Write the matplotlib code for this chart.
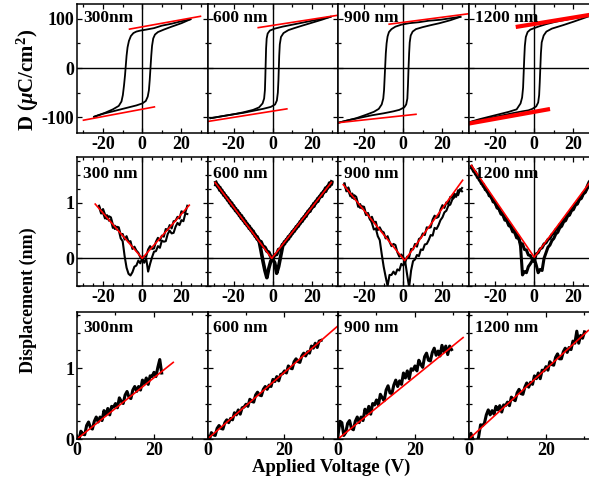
import matplotlib
matplotlib.use("Agg")
import matplotlib.pyplot as plt
from matplotlib.ticker import MultipleLocator

plt.rcParams['font.family'] = 'Liberation Serif'
plt.rcParams['font.weight'] = 'bold'
plt.rcParams['axes.unicode_minus'] = False
plt.rcParams['mathtext.fontset'] = 'custom'
plt.rcParams['mathtext.rm'] = 'Liberation Serif:bold'
plt.rcParams['mathtext.it'] = 'Liberation Serif:italic:bold'
plt.rcParams['mathtext.bf'] = 'Liberation Serif:bold'

# ---------------- row 1 : P-E hysteresis (D in uC/cm2 vs V) ----------------
thick = ['300nm', '600 nm', '900 nm', '1200 nm']

pe_dn_V = [
    [24.6, 20, 15, 10, 6, 2, -1, -3, -4.5, -5.8, -6.8, -7.5, -8.0, -8.4, -8.8, -9.3, -9.9, -10.6, -12, -15, -19, -24.6],
    [29.5, 25, 20, 15, 10, 5, 1, -1.5, -2.6, -3.1, -3.4, -3.6, -3.8, -4.0, -4.4, -5.2, -7, -10, -15, -20, -26, -31.8],
    [29.2, 24, 19, 13, 8, 3, -1, -4, -6, -7.3, -8.0, -8.5, -8.9, -9.2, -9.5, -9.8, -10.2, -11, -12.5, -15, -19, -24, -29, -33],
    [30, 26, 20, 15, 11, 6, 2, 0, -2, -3.4, -4.3, -4.8, -5.1, -5.4, -5.7, -6.2, -7, -9, -13, -18, -23, -28, -34],
]
pe_dn_D = [
    [99, 95, 90, 86, 81, 78, 76, 74, 71, 65, 55, 42, 25, 5, -15, -35, -55, -68, -77, -84, -91, -99],
    [104, 100, 96, 92, 88, 84, 80, 76, 70, 60, 40, 10, -20, -45, -62, -72, -80, -85, -90, -94, -98, -102],
    [104, 101, 98, 96, 93, 91, 88, 84, 79, 73, 64, 50, 30, 5, -20, -45, -62, -74, -83, -89, -95, -102, -107, -111],
    [108, 105, 101, 97, 94, 89, 84, 81, 78, 73, 63, 45, 20, -10, -40, -60, -72, -84, -89, -94, -99, -104, -111],
]
pe_up_V = [
    [-24.6, -20, -15, -10, -6, -3, 0, 1.8, 2.8, 3.4, 3.8, 4.2, 4.6, 5.0, 5.6, 6.5, 8, 11, 15, 20, 24.6],
    [-31.8, -26, -20, -15, -10, -5, -1, 1.2, 2.1, 2.6, 2.9, 3.1, 3.3, 3.6, 4.2, 5.5, 8, 11, 15, 20, 25, 29.5],
    [-33, -28, -22, -16, -10, -5, -2, 0.5, 1.5, 2.1, 2.4, 2.7, 3.0, 3.3, 3.8, 4.8, 6.5, 9.9, 14, 18.5, 24, 29.2],
    [-34, -28, -22, -16, -10, -6, -3, -1, 1, 2, 2.5, 2.8, 3.1, 3.4, 3.8, 4.8, 6.2, 9, 14.7, 20, 25, 30],
]
pe_up_D = [
    [-99, -93, -88, -83, -79, -76, -72, -67, -58, -45, -25, 0, 25, 45, 60, 68, 73, 78, 84, 91, 99],
    [-102, -98, -94, -91, -87, -83, -79, -74, -66, -50, -25, 0, 25, 48, 63, 71, 77, 81, 86, 92, 98, 104],
    [-111, -106, -101, -96, -92, -88, -85, -80, -74, -62, -35, 0, 30, 52, 66, 74, 79, 83, 87, 91, 97, 104],
    [-111, -106, -101, -96, -91, -88, -86, -83, -78, -70, -55, -30, 0, 30, 52, 66, 74, 80, 87, 94, 101, 108],
]
# linear fits of the saturated parts: (V1, V2), (D1, D2)
pe_fit_hi = [((-6.5, 29.7), (79, 105)), ((-7.4, 33), (82, 107)),
             ((-7.2, 33), (89, 110)), ((-8.4, 30), (84, 109))]
pe_fit_lo = [((-30, 6.2), (-106, -79)), ((-33.8, 7.2), (-109, -83)),
             ((-33, 6.5), (-111, -94)), ((-35, 7), (-114, -84))]
pe_fit_lw = [1.2, 1.2, 1.2, 3.0]

# ---------------- row 2 : butterfly loops (displacement nm vs V) ----------------
bf_names = ['300 nm', '600 nm', '900 nm', '1200 nm']
V_bf = [-32, -31, -30, -29, -28, -27, -26, -25, -24, -23, -22, -21, -20, -19, -18, -17,
        -16, -15, -14, -13, -12, -11, -10, -9, -8, -7, -6, -5, -4, -3, -2, -1, 0,
        1, 2, 3, 4, 5, 6, 7, 8, 9, 10, 11, 12, 13, 14, 15, 16, 17, 18, 19, 20,
        21, 22, 23, 24, 25, 26, 27, 28, 29, 30]
bf_span = [(10, 56), (3, 63), (2, 63), (0, 63)]   # index range of V_bf per panel

bf_300_a = [0.95, 0.84, 0.89, 0.79, 0.71, 0.76, 0.74, 0.61, 0.53, 0.57,
            0.56, 0.43, 0.44, 0.34, 0.40, 0.30, 0.31, 0.17, 0.21, 0.14,
            0.10, 0.02, 0.03, 0.03, 0.03, 0.16, 0.22, 0.17, 0.18, 0.30,
            0.37, 0.32, 0.41, 0.39, 0.53, 0.51, 0.60, 0.54, 0.67, 0.68,
            0.75, 0.72, 0.85, 0.83, 0.83, 0.95]
bf_300_b = [0.93, 0.81, 0.82, 0.72, 0.78, 0.68, 0.69, 0.55, 0.59, 0.52,
            0.51, 0.36, 0.31, 0.04, -0.17, -0.28, -0.31, -0.25, -0.15, -0.13,
            -0.04, -0.09, 0.01, -0.08, 0.00, -0.24, -0.10, 0.02, 0.12, 0.13,
            0.22, 0.19, 0.32, 0.30, 0.31, 0.44, 0.50, 0.45, 0.46, 0.57,
            0.64, 0.60, 0.69, 0.67, 0.81, 0.80]
bf_600_a = [1.37, 1.29, 1.28, 1.19, 1.18, 1.10, 1.09, 1.00, 1.00, 0.91,
            0.90, 0.82, 0.81, 0.72, 0.72, 0.63, 0.62, 0.54, 0.53, 0.45,
            0.43, 0.35, 0.32, 0.14, -0.05, -0.22, -0.35, -0.18, -0.05, 0.00,
            0.06, 0.07, 0.16, 0.17, 0.25, 0.26, 0.34, 0.35, 0.43, 0.45,
            0.52, 0.54, 0.61, 0.63, 0.71, 0.72, 0.80, 0.82, 0.89, 0.91,
            0.99, 1.00, 1.08, 1.10, 1.17, 1.19, 1.27, 1.27, 1.36, 1.35]
bf_600_b = [1.33, 1.32, 1.23, 1.23, 1.14, 1.13, 1.05, 1.04, 0.95, 0.95,
            0.86, 0.86, 0.77, 0.77, 0.68, 0.67, 0.59, 0.58, 0.50, 0.49,
            0.40, 0.39, 0.31, 0.30, 0.22, 0.20, 0.13, 0.11, 0.03, -0.02,
            -0.08, -0.27, -0.15, 0.03, 0.21, 0.30, 0.31, 0.39, 0.40, 0.48,
            0.49, 0.57, 0.58, 0.66, 0.67, 0.75, 0.76, 0.85, 0.85, 0.94,
            0.94, 1.03, 1.03, 1.12, 1.12, 1.21, 1.21, 1.30, 1.30, 1.38]
bf_900_a = [1.35, 1.23, 1.28, 1.18, 1.09, 1.14, 1.11, 0.98, 0.91, 0.94,
            0.93, 0.80, 0.80, 0.70, 0.75, 0.65, 0.66, 0.51, 0.56, 0.49,
            0.47, 0.36, 0.40, 0.30, 0.22, 0.26, 0.24, 0.11, 0.03, 0.07,
            0.02, -0.07, 0.03, 0.02, 0.17, 0.16, 0.26, 0.21, 0.35, 0.37,
            0.45, 0.42, 0.56, 0.55, 0.56, 0.70, 0.77, 0.73, 0.75, 0.88,
            0.96, 0.91, 1.01, 0.98, 1.11, 1.09, 1.17, 1.11, 1.23, 1.22,
            1.27]
bf_900_b = [1.35, 1.21, 1.22, 1.12, 1.17, 1.07, 1.07, 0.93, 0.98, 0.90,
            0.89, 0.78, 0.82, 0.72, 0.64, 0.52, 0.54, 0.40, 0.33, 0.08,
            -0.15, -0.33, -0.50, -0.30, -0.30, -0.24, -0.29, -0.20, -0.22, -0.10,
            -0.13, -0.06, -0.30, -0.52, -0.22, -0.05, -0.02, 0.06, 0.04, 0.16,
            0.15, 0.25, 0.26, 0.33, 0.42, 0.41, 0.55, 0.53, 0.60, 0.69,
            0.74, 0.83, 0.86, 0.95, 0.97, 1.06, 1.10, 1.16, 1.14, 1.25,
            1.21]
bf_1200_a = [1.63, 1.60, 1.52, 1.49, 1.41, 1.38, 1.30, 1.27, 1.20, 1.17,
             1.10, 1.05, 1.00, 0.94, 0.90, 0.83, 0.80, 0.73, 0.70, 0.62,
             0.60, 0.52, 0.50, 0.42, 0.40, 0.22, -0.30, -0.24, -0.26, -0.15,
             -0.10, -0.04, -0.06, 0.08, 0.10, 0.17, 0.19, 0.26, 0.28, 0.34,
             0.36, 0.43, 0.45, 0.52, 0.54, 0.61, 0.63, 0.70, 0.72, 0.80,
             0.81, 0.89, 0.91, 0.99, 1.00, 1.08, 1.10, 1.18, 1.20, 1.30,
             1.38, 1.42, 1.46]
bf_1200_b = [1.66, 1.57, 1.56, 1.46, 1.45, 1.35, 1.34, 1.24, 1.23, 1.13,
             1.12, 1.02, 1.01, 0.91, 0.89, 0.80, 0.78, 0.69, 0.68, 0.59,
             0.57, 0.48, 0.47, 0.37, 0.36, 0.27, 0.26, 0.16, 0.15, 0.06,
             0.05, -0.02, 0.00, -0.12, -0.26, -0.20, -0.22, 0.00, 0.10, 0.20,
             0.24, 0.32, 0.36, 0.44, 0.47, 0.55, 0.58, 0.66, 0.68, 0.76,
             0.78, 0.86, 0.88, 0.96, 0.98, 1.06, 1.08, 1.16, 1.19, 1.26,
             1.32, 1.36, 1.40]
bf_a = [bf_300_a, bf_600_a, bf_900_a, bf_1200_a]
bf_b = [bf_300_b, bf_600_b, bf_900_b, bf_1200_b]
bf_lw = [1.5, 2.6, 1.5, 2.2]
# V-shaped fits: (left V, vertex V, right V), (left d, vertex d, right d)
bf_fit = [((-24, 0, 24), (0.98, 0.0, 0.96)),
          ((-29.4, -0.5, 29.9), (1.37, 0.0, 1.37)),
          ((-30.6, 0.7, 30.3), (1.33, -0.04, 1.41)),
          ((-32.1, 0.0, 30), (1.68, 0.02, 1.45))]

# ---------------- row 3 : unipolar displacement vs V ----------------
uni_names = ['300nm', '600 nm', '900 nm', '1200 nm']
V_uni = [0, 0.5, 1, 1.5, 2, 2.5, 3, 3.5, 4, 4.5, 5, 5.5, 6, 6.5, 7, 7.5, 8, 8.5, 9, 9.5,
         10, 10.5, 11, 11.5, 12, 12.5, 13, 13.5, 14, 14.5, 15, 15.5, 16, 16.5, 17, 17.5,
         18, 18.5, 19, 19.5, 20, 20.5, 21, 21.5, 22, 22.5, 23, 23.5, 24, 24.5, 25, 25.5,
         26, 26.5, 27, 27.5, 28, 28.5, 29, 29.5, 30]
uni_300 = [0.03, -0.02, 0.11, 0.07, 0.06, 0.19, 0.24, 0.16, 0.14, 0.25,
           0.31, 0.24, 0.31, 0.26, 0.40, 0.34, 0.43, 0.34, 0.46, 0.45,
           0.50, 0.44, 0.58, 0.53, 0.50, 0.62, 0.67, 0.59, 0.57, 0.69,
           0.74, 0.67, 0.74, 0.69, 0.83, 0.78, 0.86, 0.77, 0.89, 0.88,
           0.94, 0.88, 1.01, 1.12, 0.93]
uni_600 = [0.02, -0.01, 0.09, 0.06, 0.05, 0.15, 0.19, 0.15, 0.14, 0.23,
           0.27, 0.23, 0.29, 0.27, 0.37, 0.34, 0.41, 0.35, 0.44, 0.45,
           0.49, 0.46, 0.56, 0.53, 0.52, 0.62, 0.66, 0.62, 0.61, 0.70,
           0.74, 0.70, 0.76, 0.74, 0.84, 0.81, 0.88, 0.82, 0.91, 0.92,
           0.96, 0.93, 1.03, 1.00, 0.99, 1.09, 1.13, 1.09, 1.08, 1.17,
           1.21, 1.17, 1.23, 1.21, 1.31, 1.28, 1.35, 1.29, 1.38, 1.39]
uni_900 = [0.05, 0.25, 0.23, 0.05, 0.09, 0.22, 0.26, 0.15, 0.13, 0.25,
           0.31, 0.23, 0.31, 0.26, 0.42, 0.36, 0.46, 0.35, 0.50, 0.48,
           0.55, 0.48, 0.63, 0.58, 0.54, 0.69, 0.75, 0.65, 0.64, 0.76,
           0.83, 0.74, 0.82, 0.77, 0.93, 0.86, 0.96, 0.85, 0.99, 0.97,
           1.03, 0.96, 1.11, 1.05, 1.01, 1.16, 1.21, 1.11, 1.10, 1.22,
           1.28, 1.18, 1.24, 1.17, 1.32, 1.23, 1.31, 1.19, 1.31, 1.26]
uni_1200 = [0.03, 0.08, 0.00, -0.04, -0.06, 0.03, 0.20, 0.19, 0.22, 0.34,
            0.41, 0.34, 0.40, 0.35, 0.46, 0.41, 0.47, 0.38, 0.48, 0.47,
            0.52, 0.47, 0.59, 0.56, 0.54, 0.65, 0.70, 0.64, 0.63, 0.73,
            0.79, 0.73, 0.80, 0.77, 0.89, 0.85, 0.93, 0.85, 0.97, 0.96,
            1.02, 0.97, 1.09, 1.05, 1.04, 1.15, 1.20, 1.13, 1.13, 1.23,
            1.28, 1.22, 1.29, 1.26, 1.38, 1.35, 1.52, 1.35, 1.46, 1.42,
            1.51]
uni_d = [uni_300, uni_600, uni_900, uni_1200]
uni_fit = [((0, 25), (0, 1.08)), ((0, 34), (0, 1.6)),
           ((0, 32.5), (0, 1.43)), ((0, 31), (0, 1.53))]

# ---------------- layout ----------------
W, H = 589, 480
fig = plt.figure(figsize=(W / 100, H / 100), dpi=100)
col_left = [77, 207.5, 338, 469]
col_w = 130.5
rows = [(4, 133), (157, 286), (312, 439)]   # top, bottom in px


def make_ax(r, c):
    top, bot = rows[r]
    ax = fig.add_axes([col_left[c] / W, 1 - bot / H, col_w / W, (bot - top) / H])
    for s in ax.spines.values():
        s.set_linewidth(1.1)
    ax.tick_params(which='both', direction='in', top=True, right=True,
                   labelsize=13, pad=2, width=0.9)
    ax.tick_params(which='major', length=3.5)
    ax.tick_params(which='minor', length=2)
    if c > 0:
        ax.tick_params(labelleft=False)
    return ax


def label(ax, txt, y):
    ax.text(0.045, y, txt, transform=ax.transAxes, fontsize=12.5,
            fontweight='bold', va='top', ha='left')


for c in range(4):
    # row 1
    ax = make_ax(0, c)
    ax.axhline(0, color='black', lw=1)
    ax.axvline(0, color='black', lw=1)
    ax.plot(pe_dn_V[c], pe_dn_D[c], color='black', lw=1.3)
    ax.plot(pe_up_V[c], pe_up_D[c], color='black', lw=1.3)
    ax.plot(pe_fit_hi[c][0], pe_fit_hi[c][1], color='red', lw=pe_fit_lw[c])
    ax.plot(pe_fit_lo[c][0], pe_fit_lo[c][1], color='red', lw=pe_fit_lw[c])
    ax.set_xlim(-33.3, 33.3)
    ax.set_ylim(-132, 130)
    ax.set_xticks([-20, 0, 20])
    ax.set_yticks([-100, 0, 100])
    ax.xaxis.set_minor_locator(MultipleLocator(10))
    ax.yaxis.set_minor_locator(MultipleLocator(50))
    label(ax, thick[c], 0.955)

    # row 2
    ax = make_ax(1, c)
    ax.axhline(0, color='black', lw=1)
    ax.axvline(0, color='black', lw=1)
    i0, i1 = bf_span[c]
    ax.plot(V_bf[i0:i1], bf_a[c], color='black', lw=bf_lw[c])
    ax.plot(V_bf[i0:i1], bf_b[c], color='black', lw=bf_lw[c])
    ax.plot(bf_fit[c][0], bf_fit[c][1], color='red', lw=1.2)
    ax.set_xlim(-33.3, 33.3)
    ax.set_ylim(-0.5, 1.83)
    ax.set_xticks([-20, 0, 20])
    ax.set_yticks([0, 1])
    ax.xaxis.set_minor_locator(MultipleLocator(5))
    ax.yaxis.set_minor_locator(MultipleLocator(0.25))
    label(ax, bf_names[c], 0.93)

    # row 3
    ax = make_ax(2, c)
    ax.plot(V_uni[:len(uni_d[c])], uni_d[c], color='black', lw=2.2)
    ax.plot(uni_fit[c][0], uni_fit[c][1], color='red', lw=1.2)
    ax.set_xlim(0, 33.9)
    ax.set_ylim(0, 1.79)
    ax.set_xticks([0, 20])
    ax.set_yticks([0, 1])
    ax.xaxis.set_minor_locator(MultipleLocator(10))
    ax.yaxis.set_minor_locator(MultipleLocator(0.25))
    label(ax, uni_names[c], 0.94)

fig.text(28 / W, 1 - 80 / H, r'D ($\mu$C/cm$^2$)', rotation=90, fontsize=15,
         fontweight='bold', ha='center', va='center')
fig.text(28 / W, 1 - 300 / H, 'Displacement (nm)', rotation=90, fontsize=13,
         fontweight='bold', ha='center', va='center')
fig.text(331 / W, 1 - 467 / H, 'Applied Voltage (V)', fontsize=13.5,
         fontweight='bold', ha='center', va='center')

fig.savefig('out.png', dpi=100)
